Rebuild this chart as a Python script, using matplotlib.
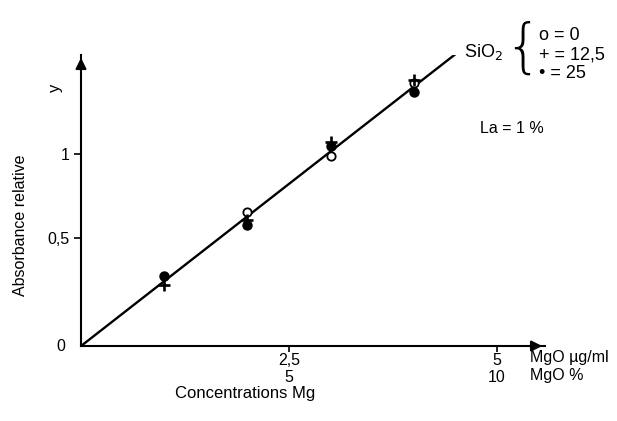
import matplotlib.pyplot as plt

plt.rcParams['font.family'] = ['Liberation Sans', 'DejaVu Sans']

# MgO concentration of the standards (µg/ml)
conc = [1, 2, 3, 4]
conc_open = [2, 3, 4]

# relative absorbance for each SiO2 level
abs_sio2_0 = [0.655, 0.99, 1.42]
abs_sio2_12 = [0.22, 0.607, 1.07, 1.44]
abs_sio2_25 = [0.274, 0.577, 1.05, 1.37]

# calibration line
fit_x = [0, 4.5]
fit_y = [-0.143, 1.594]

xticks = [2.5, 5]
xtick_labels = ['2,5\n5', '5\n10']
yticks = [0.5, 1]
ytick_labels = ['0,5', '1']

fig = plt.figure(figsize=(6.17, 4.21), dpi=100)
ax = fig.add_axes([0.1313, 0.1781, 0.752, 0.6912])
ax.set_xlim(0, 5.577)
ax.set_ylim(-0.143, 1.589)

ax.plot(fit_x, fit_y, color='k', lw=1.7, solid_capstyle='round')
ax.plot(conc, abs_sio2_25, 'o', color='k', ms=6.5, zorder=3)
ax.plot(conc, abs_sio2_12, '+', color='k', ms=9, mew=1.9, zorder=4)
ax.plot(conc_open, abs_sio2_0, 'o', mfc='white', mec='k', ms=6, mew=1.3, zorder=3)

ax.spines['top'].set_visible(False)
ax.spines['right'].set_visible(False)
ax.spines['left'].set_linewidth(1.5)
ax.spines['bottom'].set_linewidth(1.5)

# arrow heads on both axes
ax.annotate('', xy=(1.0, 0), xytext=(0.96, 0), xycoords='axes fraction',
            arrowprops=dict(arrowstyle='-|>', color='k', lw=1.5, mutation_scale=16))
ax.annotate('', xy=(0, 1.0), xytext=(0, 0.95), xycoords='axes fraction',
            arrowprops=dict(arrowstyle='-|>', color='k', lw=1.5, mutation_scale=16))

ax.set_xticks(xticks, xtick_labels, fontsize=11.5, linespacing=1.15)
ax.set_yticks(yticks, ytick_labels, fontsize=11.5)
ax.tick_params(axis='y', direction='out', length=5, width=1.2, pad=3)
ax.tick_params(axis='x', direction='out', length=4, width=1.2, pad=1)

ax.text(-0.035, 0, '0', transform=ax.transAxes, ha='right', va='center', fontsize=11.5)
ax.text(-0.056, 0.887, 'y', transform=ax.transAxes, ha='center', va='center',
        fontsize=12, rotation=90)

ax.set_ylabel('Absorbance relative', fontsize=11.5)
ax.yaxis.set_label_coords(-0.115, 0.416)
ax.set_xlabel('Concentrations Mg', fontsize=12)
ax.xaxis.set_label_coords(0.353, -0.138)

# unit labels on the right of the x axis
ax.text(0.968, -0.038, 'MgO µg/ml', transform=ax.transAxes, ha='left', va='center', fontsize=11.5)
ax.text(0.968, -0.100, 'MgO %', transform=ax.transAxes, ha='left', va='center', fontsize=11.5)

# SiO2 key
ax.text(0.826, 1.010, 'SiO$_2$', transform=ax.transAxes, ha='left', va='center', fontsize=13)
ax.text(0.952, 1.021, '{', transform=ax.transAxes, ha='center', va='center', fontsize=42,
        family='DejaVu Sans', fontweight='light')
ax.text(0.986, 1.066, 'o = 0', transform=ax.transAxes, ha='left', va='center', fontsize=13)
ax.text(0.986, 1.000, '+ = 12,5', transform=ax.transAxes, ha='left', va='center', fontsize=13)
ax.text(0.986, 0.938, '• = 25', transform=ax.transAxes, ha='left', va='center', fontsize=13)
ax.text(0.86, 0.749, 'La = 1 %', transform=ax.transAxes, ha='left', va='center', fontsize=11.5)

fig.savefig('out.png', dpi=100)
